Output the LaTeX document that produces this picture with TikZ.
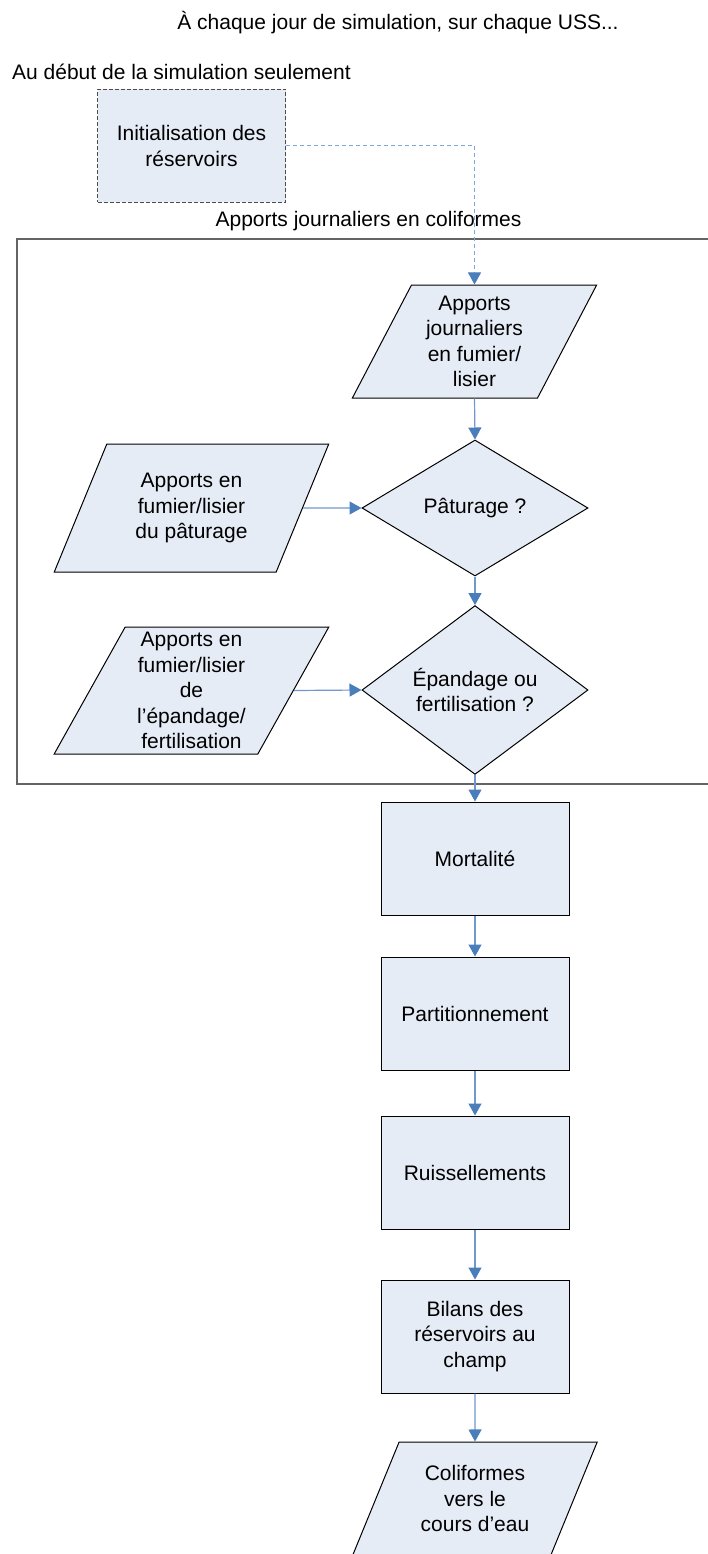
\documentclass[tikz,border=0pt]{standalone}
\usepackage{fontspec}
\setmainfont{Liberation Sans}
\usetikzlibrary{arrows.meta,shapes.geometric}

\definecolor{boxfill}{RGB}{230,236,246}
\definecolor{headblue}{RGB}{74,126,187}
\definecolor{lineblue}{RGB}{112,152,206}
\definecolor{dashblue}{RGB}{126,166,224}
\definecolor{framegray}{RGB}{100,100,100}

\begin{document}
\begin{tikzpicture}[x=1pt,y=-1pt]
\useasboundingbox (0,0) rectangle (708,1554);

\tikzset{txt/.style = {font=\fontsize{21}{25.5}\selectfont, align=center, inner sep=0pt}}
\tikzset{process/.style = {txt, shape=rectangle, draw, line width=1pt, fill=boxfill, minimum width=188pt, minimum height=113pt}}
\tikzset{decision/.style = {txt, shape=diamond, draw, line width=1pt, fill=boxfill, minimum width=226pt, minimum height=136pt}}
\tikzset{data/.style = {txt, shape=trapezium, trapezium left angle=63.5, trapezium right angle=116.5,
  trapezium stretches=true, draw, line width=1pt, fill=boxfill}}
\tikzset{edge/.style = {-{Triangle[length=12pt,width=13pt,color=headblue]}, draw=lineblue, line width=1.2pt}}

% labels
\node[txt, anchor=base] (title) at (398,30) {À chaque jour de simulation, sur chaque USS...};
\node[txt, anchor=base west] (onlystart) at (12,80) {Au début de la simulation seulement};
\node[txt, anchor=base] (daylabel) at (368.5,227) {Apports journaliers en coliformes};
\draw[framegray, line width=1.2pt] (17,239) rectangle (720,784);

\node[process, dash pattern=on 4pt off 2pt, draw=black!70] (init) at (191.5,146) {Initialisation des\\réservoirs};

% inputs
\node[data, minimum width=245pt, minimum height=113pt] (daily) at (474.5,341.5) {Apports\\journaliers\\en fumier/\\lisier};
\node[data, minimum width=275pt, minimum height=128pt] (graze) at (191.5,508) {Apports en\\fumier/lisier\\du pâturage};
\node[data, minimum width=275pt, minimum height=127pt] (spread) at (191.5,690.5) {Apports en\\fumier/lisier\\de\\l’épandage/\\fertilisation};
\node[data, minimum width=245pt, minimum height=113pt] (outlet) at (475,1498.5) {Coliformes\\vers le\\cours d’eau};

% tests
\node[decision] (isgraze) at (475,508) {Pâturage ?};
\node[decision, minimum height=134pt] (isspread) at (475,690) {Épandage ou\\fertilisation ?};

% processes
\foreach \pos/\name/\text in {{(475,858.5)/mort/Mortalité}, {(475,1013.5)/part/Partitionnement},
  {(475,1172.5)/runoff/Ruissellements}, {(475,1336.5)/balance/{Bilans des\\réservoirs au\\champ}}}
\node[process] (\name) at \pos {\text};

\draw[edge, draw=dashblue, dash pattern=on 4pt off 3pt, line width=1pt] (init.east) -| (daily.north);

\foreach \from/\to in {daily/isgraze, isgraze/isspread, isspread/mort, mort/part, part/runoff, runoff/balance, balance/outlet}
\draw[edge] (\from.south) -- (\to.north);

\draw[edge] (graze.east) -- (isgraze.west);
\draw[edge] (spread.east) -- (isspread.west);
\end{tikzpicture}
\end{document}
